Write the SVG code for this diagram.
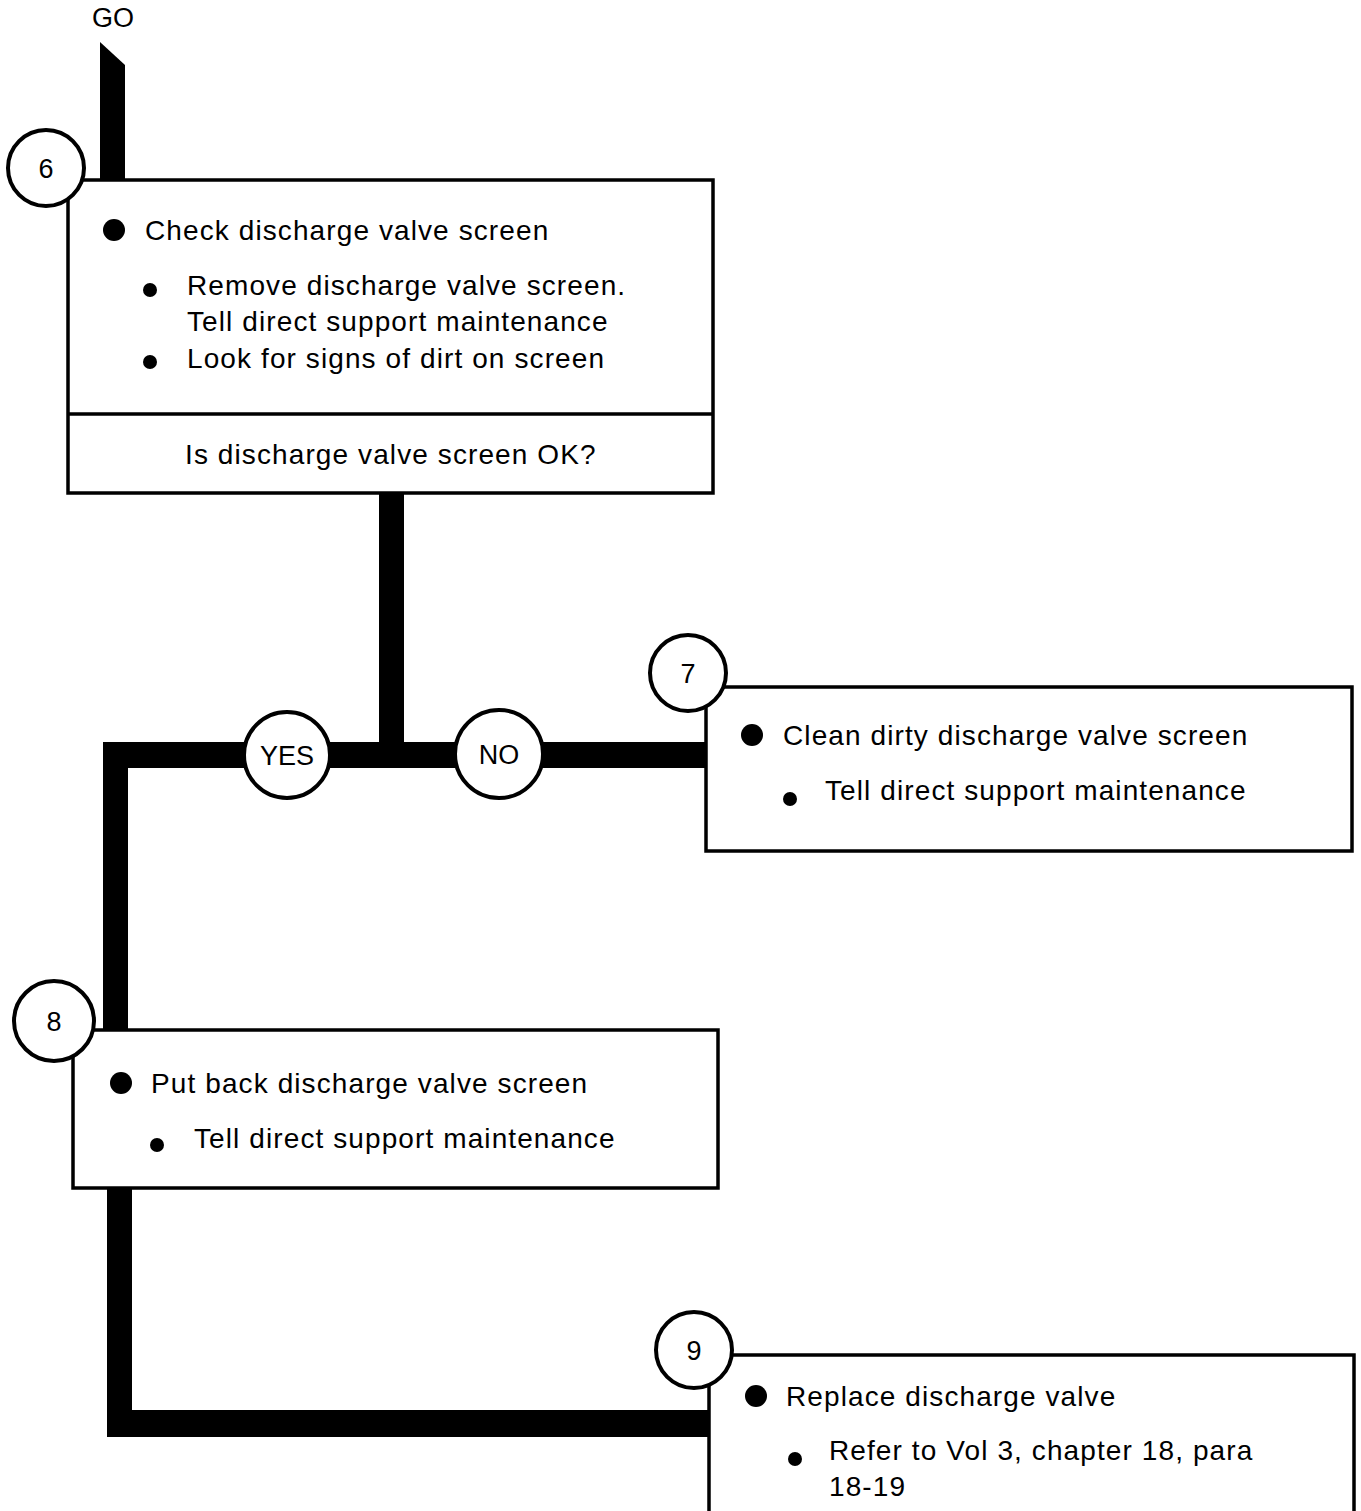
<svg xmlns="http://www.w3.org/2000/svg" width="1361" height="1511" viewBox="0 0 1361 1511">
<style>
.box{fill:#fff;stroke:#000;stroke-width:3.5}
.circ{fill:#fff;stroke:#000;stroke-width:4}
.t{font-family:"Liberation Sans",Arial,sans-serif;font-size:28px;fill:#000;letter-spacing:1.1px}
.n{font-family:"Liberation Sans",Arial,sans-serif;font-size:27px;fill:#000;text-anchor:middle}
.flow{fill:#000}
</style>
<rect width="1361" height="1511" fill="#fff"/>
<g id="connectors">
<polygon class="flow" points="100,42 125,65 125,182 100,182"/>
<rect class="flow" x="379" y="490" width="25" height="278"/>
<rect class="flow" x="103" y="742" width="604" height="26"/>
<rect class="flow" x="103" y="742" width="25" height="290"/>
<rect class="flow" x="107" y="1186" width="25" height="251"/>
<rect class="flow" x="107" y="1410" width="603" height="27"/>
</g>
<g id="go"><text class="n" x="113" y="27" font-size="26">GO</text></g>
<g id="yes"><circle class="circ" cx="287" cy="755" r="43"/><text class="n" x="287" y="765">YES</text></g>
<g id="no"><circle class="circ" cx="499" cy="754" r="44"/><text class="n" x="499" y="764">NO</text></g>
<g id="step6">
<rect class="box" x="68" y="180" width="645" height="313"/>
<line x1="68" y1="414" x2="713" y2="414" stroke="#000" stroke-width="3.5"/>
<circle class="circ" cx="46" cy="168" r="38"/><text class="n" x="46" y="178">6</text>
<circle cx="114" cy="230" r="11"/><text class="t" x="145" y="240">Check discharge valve screen</text>
<circle cx="150" cy="290" r="7"/><text class="t" x="187" y="295">Remove discharge valve screen.</text>
<text class="t" x="187" y="331">Tell direct support maintenance</text>
<circle cx="150" cy="362" r="7"/><text class="t" x="187" y="368">Look for signs of dirt on screen</text>
<text class="t" x="185" y="464">Is discharge valve screen OK?</text>
</g>
<g id="step7">
<rect class="box" x="706" y="687" width="646" height="164"/>
<circle class="circ" cx="688" cy="673" r="38"/><text class="n" x="688" y="683">7</text>
<circle cx="752" cy="735" r="11"/><text class="t" x="783" y="745">Clean dirty discharge valve screen</text>
<circle cx="790" cy="799" r="7"/><text class="t" x="825" y="800">Tell direct support maintenance</text>
</g>
<g id="step8">
<rect class="box" x="73" y="1030" width="645" height="158"/>
<circle class="circ" cx="54" cy="1021" r="40"/><text class="n" x="54" y="1031">8</text>
<circle cx="121" cy="1083" r="11"/><text class="t" x="151" y="1093">Put back discharge valve screen</text>
<circle cx="157" cy="1145" r="7"/><text class="t" x="194" y="1148">Tell direct support maintenance</text>
</g>
<g id="step9">
<rect class="box" x="709" y="1355" width="645" height="160"/>
<circle class="circ" cx="694" cy="1350" r="38"/><text class="n" x="694" y="1360">9</text>
<circle cx="756" cy="1396" r="11"/><text class="t" x="786" y="1406">Replace discharge valve</text>
<circle cx="795" cy="1459" r="7"/><text class="t" x="829" y="1460">Refer to Vol 3, chapter 18, para</text>
<text class="t" x="829" y="1496">18-19</text>
</g>
</svg>
